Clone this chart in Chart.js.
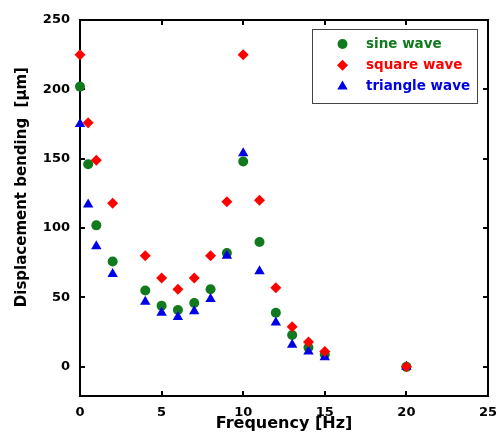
<!DOCTYPE html>
<html>
<head>
<meta charset="utf-8">
<script src="https://cdn.jsdelivr.net/npm/chart.js@4/dist/chart.umd.min.js"></script>
<style>
  html, body { margin: 0; padding: 0; background: #fff; }
  #wrap { width: 499px; height: 436px; }
</style>
</head>
<body>
<div id="wrap"><canvas id="myChart"></canvas></div>
<script>
// frequencies [Hz]
var freq = [0, 0.5, 1, 2, 4, 5, 6, 7, 8, 9, 10, 11, 12, 13, 14, 15, 20]
// displacement bending [µm]
var sine = [202, 146, 102, 76, 55, 44, 41, 46, 56, 82, 148, 90, 39, 23, 14, 9, 0]
var square = [225, 176, 149, 118, 80, 64, 56, 64, 80, 119, 225, 120, 57, 29, 18, 11, 0]
var triangle = [175, 117, 87, 67, 47, 39, 36, 40, 49, 80, 154, 69, 32, 16, 11, 7, 0]

var xTicks = [0, 5, 10, 15, 20, 25]
var yTicks = [0, 50, 100, 150, 200, 250]

var FONT = "'DejaVu Sans', Verdana, sans-serif"

function pts (ys) {
  return ys.map(function (y, i) { return { x: freq[i], y: y } })
}

// frame with inward ticks on all four sides
var frame = {
  id: 'frame',
  beforeDatasetsDraw: function (chart) {
    var ctx = chart.ctx
    var a = chart.chartArea
    var xs = chart.scales.x
    var ys = chart.scales.y
    ctx.save()
    ctx.strokeStyle = '#000'
    ctx.lineWidth = 2
    ctx.strokeRect(a.left, a.top, a.right - a.left, a.bottom - a.top)
    ctx.beginPath()
    xTicks.forEach(function (v) {
      var px = Math.round(xs.getPixelForValue(v))
      ctx.moveTo(px, a.bottom); ctx.lineTo(px, a.bottom - 5)
      ctx.moveTo(px, a.top); ctx.lineTo(px, a.top + 5)
    })
    yTicks.forEach(function (v) {
      var py = Math.round(ys.getPixelForValue(v))
      ctx.moveTo(a.left, py); ctx.lineTo(a.left + 5, py)
      ctx.moveTo(a.right, py); ctx.lineTo(a.right - 5, py)
    })
    ctx.stroke()
    ctx.restore()
  }
}

// boxed legend in the upper right corner
var legendBox = {
  id: 'legendBox',
  afterDatasetsDraw: function (chart) {
    var ctx = chart.ctx
    var a = chart.chartArea
    var x0 = Math.round(a.right - 176) + 0.5
    var y0 = Math.round(a.top + 9) + 0.5
    ctx.save()
    ctx.fillStyle = '#fff'
    ctx.fillRect(x0, y0, 165, 74)
    ctx.strokeStyle = '#444'
    ctx.lineWidth = 1
    ctx.strokeRect(x0, y0, 165, 74)
    ctx.font = 'bold 13.5px ' + FONT
    ctx.textBaseline = 'middle'
    ctx.textAlign = 'left'
    chart.data.datasets.forEach(function (ds, i) {
      var y = y0 + 14.5 + i * 21.3
      ctx.fillStyle = ds.backgroundColor
      Chart.helpers.drawPoint(ctx, { pointStyle: ds.pointStyle, radius: ds.pointRadius, borderWidth: 0, rotation: 0 }, x0 + 30, y)
      ctx.fillStyle = ds.backgroundColor
      ctx.fillText(ds.label, x0 + 53.5, y)
    })
    ctx.restore()
  }
}

var ctx = document.getElementById('myChart')
// eslint-disable-next-line no-unused-vars
var myChart = new Chart(ctx, {
  type: 'scatter',
  data: {
    datasets: [{
      label: 'sine wave',
      data: pts(sine),
      pointStyle: 'circle',
      pointRadius: 5,
      backgroundColor: '#127a1e',
      borderWidth: 0,
      order: 2,
      clip: false
    }, {
      label: 'square wave',
      data: pts(square),
      pointStyle: 'rectRot',
      pointRadius: 5.5,
      backgroundColor: '#ff0000',
      borderWidth: 0,
      order: 0,
      clip: false
    }, {
      label: 'triangle wave',
      data: pts(triangle),
      pointStyle: 'triangle',
      pointRadius: 6,
      backgroundColor: '#0000e6',
      borderWidth: 0,
      order: 1,
      clip: false
    }]
  },
  options: {
    responsive: true,
    maintainAspectRatio: false,
    animation: false,
    layout: { padding: { left: 0, right: 11, top: 20, bottom: 0 } },
    plugins: {
      legend: { display: false },
      tooltip: { enabled: false }
    },
    scales: {
      x: {
        type: 'linear',
        min: 0,
        max: 25,
        afterBuildTicks: function (s) { s.ticks = xTicks.map(function (v) { return { value: v } }) },
        afterFit: function (s) {
          s.height = 40
          s.paddingLeft = 0
          s.paddingRight = 0
        },
        grid: { display: false, drawTicks: false },
        border: { display: false },
        ticks: { color: '#000', padding: 9, maxRotation: 0, font: { family: FONT, size: 13, weight: 'bold' } },
        title: {
          display: true,
          text: 'Frequency [Hz]',
          color: '#000',
          padding: { top: 0, bottom: 3 },
          font: { family: FONT, size: 16, weight: 'bold' }
        }
      },
      y: {
        type: 'linear',
        min: -21,
        max: 250,
        afterBuildTicks: function (s) { s.ticks = yTicks.map(function (v) { return { value: v } }) },
        afterFit: function (s) {
          s.width = 80
          s.paddingTop = 0
          s.paddingBottom = 0
        },
        grid: { display: false, drawTicks: false },
        border: { display: false },
        ticks: { color: '#000', padding: 10, font: { family: FONT, size: 13, weight: 'bold' } },
        title: {
          display: true,
          text: '        Displacement bending  [µm]',
          color: '#000',
          padding: { top: 13, bottom: 0 },
          font: { family: FONT, size: 15, weight: 'bold' }
        }
      }
    }
  },
  plugins: [frame, legendBox]
})
</script>
</body>
</html>
